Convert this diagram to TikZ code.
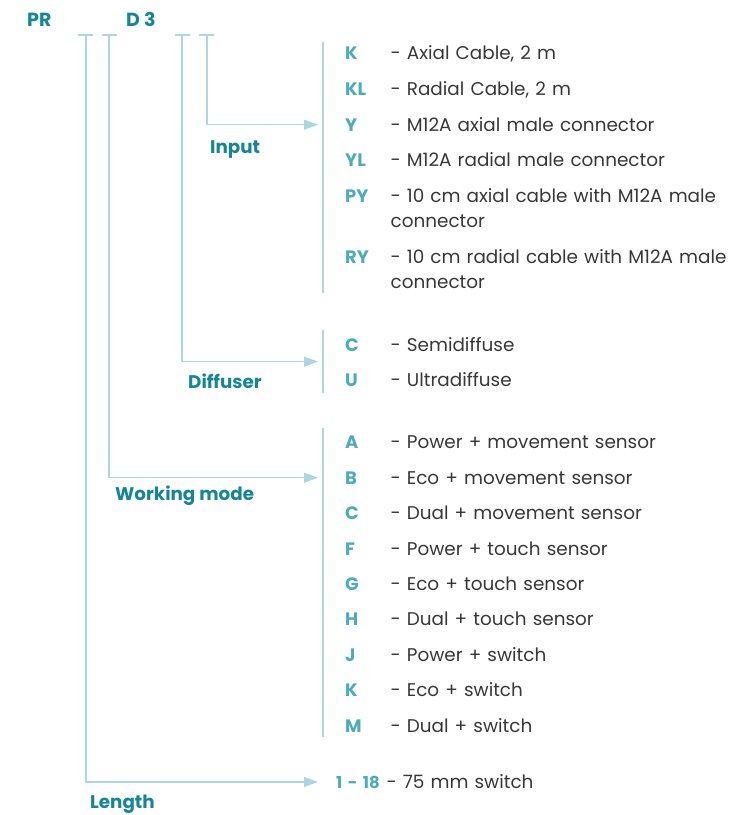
\documentclass[tikz,border=0pt]{standalone}
\usepackage{fontspec}
\setmainfont{Poppins}
\usetikzlibrary{arrows.meta, positioning}
\definecolor{tealdark}{RGB}{22,134,150}
\definecolor{teallight}{RGB}{78,172,186}
\definecolor{greytext}{RGB}{55,55,55}
\definecolor{linebl}{RGB}{172,215,223}
\tikzstyle{title} = [
  anchor=base west,
  inner sep=0,
  text=tealdark,
  font=\fontsize{19}{22}\selectfont\bfseries
]
\tikzstyle{label} = [
  anchor=base west,
  inner sep=0,
  text=tealdark,
  font=\fontsize{18.3}{20}\selectfont\bfseries
]
\tikzstyle{code} = [
  anchor=base west,
  inner sep=0,
  text width=45pt,
  align=left,
  text=teallight,
  font=\fontsize{18}{20}\selectfont\bfseries
]
\tikzstyle{desc} = [
  inner sep=0,
  text width=340pt,
  align=left,
  text=greytext,
  font=\fontsize{18.4}{25}\selectfont
]
\tikzstyle{bar} = [
  draw=linebl,
  line width=1.3pt
]
\tikzstyle{arrow} = [
  bar,
  -{Triangle[length=14pt,width=10pt]}
]

\begin{document}
\begin{tikzpicture}[x=1pt, y=-1pt]
  \useasboundingbox (0,0) rectangle (744,815);

  % heading
  \node[title] (pr) at (27,26) {PR};
  \node[title] (d3) at (126,26) {D 3};

  % ticks under the heading
  \coordinate (tLen) at (86,35);
  \coordinate (tMode) at (109,35);
  \coordinate (tDiff) at (182,35);
  \coordinate (tIn) at (207,35);
  \draw[bar] ([xshift=-8pt]tLen) -- ([xshift=7pt]tLen);
  \draw[bar] ([xshift=-7pt]tMode) -- ([xshift=8pt]tMode);
  \draw[bar] ([xshift=-7pt]tDiff) -- ([xshift=8pt]tDiff);
  \draw[bar] ([xshift=-8pt]tIn) -- ([xshift=7pt]tIn);

  % input
  \coordinate (bIn) at (323,42);
  \coordinate (eIn) at (323,293);
  \draw[bar] (bIn) -- (eIn);
  \node[code] (inK) at (345,59) {K};
  \node[desc, base right=0pt of inK] (dinK) {- Axial Cable, 2 m};
  \node[code] (inKL) at (345,95) {KL};
  \node[desc, base right=0pt of inKL] (dinKL) {- Radial Cable, 2 m};
  \node[code] (inY) at (345,131) {Y};
  \node[desc, base right=0pt of inY] (dinY) {- M12A axial male connector};
  \node[code] (inYL) at (345,166) {YL};
  \node[desc, base right=0pt of inYL] (dinYL) {- M12A radial male connector};
  \node[code] (inPY) at (345,202) {PY};
  \node[desc, base right=0pt of inPY] (dinPY) {- 10 cm axial cable with M12A male\\connector};
  \node[code] (inRY) at (345,263) {RY};
  \node[desc, base right=0pt of inRY] (dinRY) {- 10 cm radial cable with M12A male\\connector};
  \coordinate (aIn) at ([xshift=-27pt]inY.west);
  \draw[arrow] (tIn) |- (aIn);
  \node[label] (lIn) at (210,153) {Input};

  % diffuser
  \coordinate (bDiff) at (323,330);
  \coordinate (eDiff) at (323,393);
  \draw[bar] (bDiff) -- (eDiff);
  \node[code] (dfC) at (345,351) {C};
  \node[desc, base right=0pt of dfC] (ddfC) {- Semidiffuse};
  \node[code] (dfU) at (345,386) {U};
  \node[desc, base right=0pt of dfU] (ddfU) {- Ultradiffuse};
  \coordinate (aDiff) at ([xshift=-27pt,yshift=-17pt]dfC.west);
  \draw[arrow] (tDiff) |- (aDiff);
  \node[label] (lDiff) at (188,388) {Diffuser};

  % working mode
  \coordinate (bMode) at (323,428);
  \coordinate (eMode) at (323,737);
  \draw[bar] (bMode) -- (eMode);
  \node[code] (wmA) at (345,448) {A};
  \node[desc, base right=0pt of wmA] (dwmA) {- Power + movement sensor};
  \node[code] (wmB) at (345,484) {B};
  \node[desc, base right=0pt of wmB] (dwmB) {- Eco + movement sensor};
  \node[code] (wmC) at (345,519) {C};
  \node[desc, base right=0pt of wmC] (dwmC) {- Dual + movement sensor};
  \node[code] (wmF) at (345,555) {F};
  \node[desc, base right=0pt of wmF] (dwmF) {- Power + touch sensor};
  \node[code] (wmG) at (345,590) {G};
  \node[desc, base right=0pt of wmG] (dwmG) {- Eco + touch sensor};
  \node[code] (wmH) at (345,625) {H};
  \node[desc, base right=0pt of wmH] (dwmH) {- Dual + touch sensor};
  \node[code] (wmJ) at (345,661) {J};
  \node[desc, base right=0pt of wmJ] (dwmJ) {- Power + switch};
  \node[code] (wmK) at (345,696) {K};
  \node[desc, base right=0pt of wmK] (dwmK) {- Eco + switch};
  \node[code] (wmM) at (345,732) {M};
  \node[desc, base right=0pt of wmM] (dwmM) {- Dual + switch};
  \coordinate (aMode) at ([xshift=-27pt]wmB.west);
  \draw[arrow] (tMode) |- (aMode);
  \node[label] (lMode) at (115,500) {Working mode};

  % length
  \node[code, text width=50pt, font=\fontsize{16.5}{20}\selectfont\bfseries] (len) at (336,788) {1 - 18};
  \node[desc, base right=0pt of len] (dlen) {- 75 mm switch};
  \coordinate (aLen) at ([xshift=-18pt]len.west);
  \draw[arrow] (tLen) |- (aLen);
  \node[label] (lLen) at (90,808) {Length};
\end{tikzpicture}
\end{document}
